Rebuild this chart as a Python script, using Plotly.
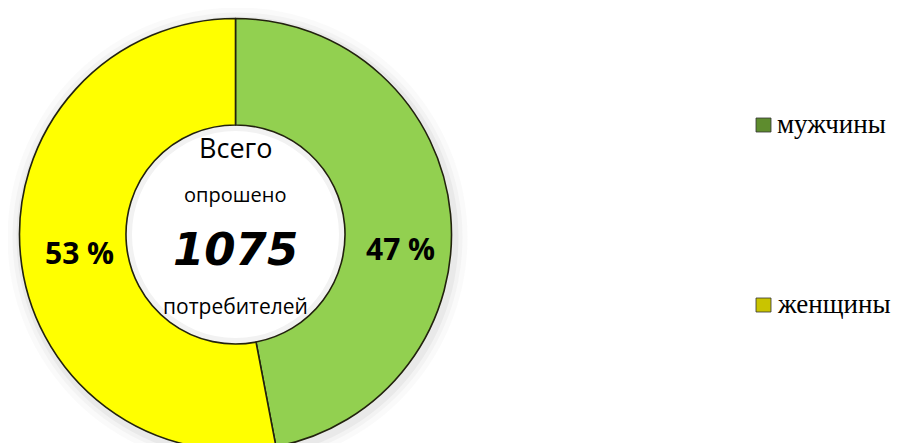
import plotly.graph_objects as go

# --- data ---
labels = ["мужчины", "женщины"]
values = [47, 53]
colors = ["#92D050", "#FFFF00"]
swatch_colors = ["#5E8C2E", "#C9C400"]
total = 1075

W, H = 907, 443
CX, CY, R = 227.5, 226.5, 216  # donut centre / radius in px
HOLE = 0.507


def px_x(x):
    return x / W


def px_y(y):
    return 1 - y / H


fig = go.Figure()

# soft shadow glow behind the donut
for extra, op in [(14, 0.035), (9, 0.05), (5, 0.07)]:
    fig.add_shape(
        type="circle", xref="paper", yref="paper",
        x0=px_x(CX - R - extra + 2), x1=px_x(CX + R + extra + 2),
        y0=px_y(CY + R + extra + 3), y1=px_y(CY - R - extra + 3),
        fillcolor=f"rgba(110,110,110,{op})", line_width=0, layer="below",
    )
# keep the hole white, with a faint inner shade at the rim
rh = R * HOLE
fig.add_shape(
    type="circle", xref="paper", yref="paper",
    x0=px_x(CX - rh), x1=px_x(CX + rh), y0=px_y(CY + rh), y1=px_y(CY - rh),
    fillcolor="#f2f2f2", line_width=0, layer="below",
)
fig.add_shape(
    type="circle", xref="paper", yref="paper",
    x0=px_x(CX - rh + 6), x1=px_x(CX + rh - 6), y0=px_y(CY + rh - 6), y1=px_y(CY - rh + 6),
    fillcolor="white", line_width=0, layer="below",
)

fig.add_trace(
    go.Pie(
        labels=labels,
        values=values,
        hole=HOLE,
        sort=False,
        direction="clockwise",
        rotation=0,
        marker={"colors": colors, "line": {"color": "#22220e", "width": 1.6}},
        textinfo="none",
        hoverinfo="label+percent",
        showlegend=False,
        domain={
            "x": [px_x(CX - R), px_x(CX + R)],
            "y": [px_y(CY + R), px_y(CY - R)],
        },
    )
)

annotations = []

# percentage labels
label_pos = [(392, 240), (71, 244)]
for v, (lx, ly) in zip(values, label_pos):
    annotations.append(dict(
        x=px_x(lx), y=px_y(ly), xref="paper", yref="paper",
        text=f"<b>{v} %</b>", showarrow=False,
        font={"family": "Open Sans", "size": 30, "color": "#000"},
        xanchor="center", yanchor="middle",
    ))

# centre text
center_lines = [
    ("Всего", 139, {"family": "Open Sans", "size": 27, "color": "#000"}),
    ("опрошено", 187, {"family": "Open Sans", "size": 20, "color": "#000"}),
    (f"<b><i>{total}</i></b>", 241, {"family": "DejaVu Sans", "size": 45, "color": "#000"}),
    ("потребителей", 298, {"family": "Open Sans", "size": 21, "color": "#000"}),
]
for txt, ty, fnt in center_lines:
    annotations.append(dict(
        x=px_x(CX), y=px_y(ty), xref="paper", yref="paper",
        text=txt, showarrow=False, font=fnt,
        xanchor="center", yanchor="middle",
    ))

# legend (manual, spread out like the source)
legend_y = [117, 297]
for lab, sc, ly in zip(labels, swatch_colors, legend_y):
    fig.add_shape(
        type="rect", xref="paper", yref="paper",
        x0=px_x(748), x1=px_x(763), y0=px_y(ly + 7), y1=px_y(ly - 7),
        fillcolor=sc, line={"color": "#333", "width": 0.8},
    )
    annotations.append(dict(
        x=px_x(767), y=px_y(ly - 1), xref="paper", yref="paper",
        text=lab, showarrow=False,
        font={"family": "Liberation Serif", "size": 27, "color": "#000"},
        xanchor="left", yanchor="middle",
    ))

fig.update_layout(
    width=W, height=H,
    margin={"l": 0, "r": 0, "t": 0, "b": 0},
    paper_bgcolor="white",
    plot_bgcolor="white",
    annotations=annotations,
)

fig.write_html("out.html")
